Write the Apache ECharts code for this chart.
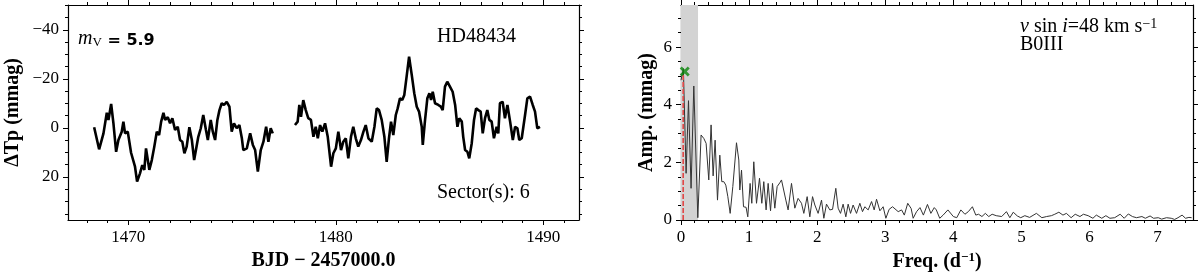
<!DOCTYPE html>
<html><head><meta charset="utf-8">
<script src="https://cdn.jsdelivr.net/npm/echarts@6/dist/echarts.min.js"></script>
<style>html,body{margin:0;padding:0;background:#fff}#c{width:1200px;height:280px}</style>
</head><body><div id="c"></div>
<script>
// ---------------- data ----------------
const lcTime1 = [1468.35,1468.59,1468.80,1468.96,1469.04,1469.17,1469.28,1469.41,1469.52,1469.68,
  1469.76,1469.84,1469.97,1470.13,1470.32,1470.42,1470.56,1470.67,1470.77,1470.85,
  1471.01,1471.13,1471.25,1471.37,1471.48,1471.58,1471.69,1471.77,1471.90,1472.01,
  1472.12,1472.25,1472.38,1472.49,1472.60,1472.70,
  1472.81,1472.94,1473.06,1473.17,1473.26,1473.37,1473.49,1473.61,1473.74,1473.83,
  1473.97,1474.07,1474.18,1474.29,1474.39,1474.50,1474.61,1474.74,1474.87,1474.98,
  1475.09,1475.22,1475.35,1475.47,1475.54,1475.71,1475.87,1476.00,1476.11,1476.24,
  1476.38,1476.51,1476.64,1476.75,1476.86,1476.96];
const lcFlux1 = [-0.3,8.7,2.2,-6.2,-3.3,-9.8,-1.9,9.7,4.9,1.5,
  -2.6,2.2,1.5,10.1,15.8,21.9,18.5,15.1,17.1,8.3,
  17.1,13.1,7.6,1.5,2.9,-2.6,-6.2,-3.3,-4.4,-1.9,
  -4.0,0.8,-0.5,4.9,5.6,10.3,
  7.6,-0.3,4.9,13.1,13.8,3.6,0.1,-5.3,0.8,4.9,
  -3.3,1.5,4.9,-3.3,-7.3,-10.1,-9.4,-10.7,-8.7,1.5,
  -1.9,0.1,-1.2,4.2,9.0,8.3,2.2,6.9,9.0,17.8,
  9.0,5.6,-0.5,5.6,0.1,2.2];
const lcTime2 = [1478.03,1478.16,1478.24,1478.32,1478.43,1478.55,1478.67,1478.80,1478.92,1479.03,
  1479.13,1479.24,1479.35,1479.48,1479.61,1479.77,1479.88,1480.00,1480.12,1480.25,
  1480.36,1480.48,1480.60,1480.73,1480.84,1480.96,1481.08,1481.21,1481.33,1481.44,
  1481.57,1481.73,1481.86,1481.97,1482.08,1482.21,1482.34,1482.45,1482.56,1482.66,
  1482.77,1482.89,1482.98,1483.09,1483.20,1483.30,1483.42,1483.53,1483.66,1483.78,
  1483.90,1484.01,1484.14,1484.19,
  1484.30,1484.41,1484.51,1484.59,1484.67,1484.78,
  1484.94,1485.06,1485.15,1485.26,1485.37,1485.50,1485.63,1485.75,1485.86,1485.95,
  1486.07,1486.14,1486.23,1486.34,1486.43,1486.55,1486.66,1486.76,1486.87,1486.98,
  1487.08,1487.19,1487.30,1487.40,1487.51,1487.62,1487.75,1487.83,1487.91,1488.04,
  1488.15,1488.27,1488.40,1488.53,1488.64,1488.75,1488.84,1488.96,1489.12,1489.23,
  1489.36,1489.49,1489.60,1489.71,1489.84];
const lcFlux2 = [-1.2,-2.6,-9.4,-4.6,-11.4,-7.3,-4.0,-3.3,3.6,-0.5,
  4.2,-1.2,1.5,-1.9,3.6,15.8,10.3,8.3,1.5,9.0,
  5.6,4.2,12.4,3.6,-0.5,4.2,7.6,4.9,1.5,-1.2,
  4.2,5.6,-0.5,-8.0,-7.3,-3.3,3.6,13.8,4.2,-2.6,
  2.9,-5.3,-8.0,-12.1,-11.4,-13.5,-21.6,-29.1,-21.6,-14.2,
  -8.7,-6.7,-0.5,6.9,
  -3.3,-12.1,-14.2,-11.4,-14.8,-10.1,
  -9.4,-8.7,-7.3,-16.9,-18.9,-16.9,-14.8,-9.4,-0.5,-4.0,
  -2.6,3.6,9.0,9.7,12.4,6.2,-3.3,-8.0,-7.3,-6.7,
  2.2,-4.0,-7.3,-3.3,-2.6,4.2,-0.5,2.2,-10.1,-10.7,
  -4.0,-9.4,-2.6,4.9,-0.5,0.1,4.9,4.2,-5.3,-12.1,
  -12.8,-9.4,-6.7,0.1,-0.5];

const spectrum = [[0.00,4.85],[0.035,5.25],[0.075,1.62],[0.11,4.14],[0.148,1.10],[0.188,4.65],[0.247,0.08],
  [0.295,2.95],[0.335,2.83],[0.369,2.66],[0.408,1.39],[0.442,3.30],[0.472,1.53],[0.501,2.77],[0.536,0.69],
  [0.570,2.25],[0.599,1.33],[0.629,1.33],[0.658,1.21],[0.688,0.81],[0.722,0.23],[0.761,1.16],[0.815,2.68],
  [0.849,2.08],[0.864,1.04],[0.889,1.73],[0.918,0.46],[0.956,0.44],[0.981,0.11],[1.015,1.27],[1.040,0.58],
  [1.069,2.02],[1.109,0.58],[1.153,1.45],[1.187,0.58],[1.216,1.33],[1.250,0.35],[1.280,1.27],[1.315,0.32],
  [1.344,1.27],[1.378,0.41],[1.412,1.16],[1.451,1.29],[1.476,1.39],[1.500,1.45],[1.540,0.69],[1.573,0.35],
  [1.623,1.27],[1.672,0.41],[1.720,0.75],[1.770,0.58],[1.804,0.23],[1.853,0.81],[1.892,0.11],[1.932,0.81],
  [1.966,0.52],[2.014,0.23],[2.064,0.69],[2.098,0.06],[2.137,0.55],[2.186,0.35],[2.226,0.37],[2.274,1.10],
  [2.308,0.41],[2.343,0.23],[2.381,0.55],[2.421,0.11],[2.455,0.55],[2.490,0.23],[2.528,0.52],[2.578,0.23],
  [2.627,0.58],[2.666,0.29],[2.700,0.46],[2.749,0.35],[2.799,0.64],[2.837,0.35],[2.872,0.72],[2.921,0.32],
  [2.969,0.46],[3.009,0.06],[3.057,0.37],[3.107,0.46],[3.19,0.29],[3.24,0.35],[3.28,0.17],[3.33,0.58],
  [3.38,0.40],[3.41,0.06],[3.46,0.29],[3.51,0.43],[3.56,0.17],[3.62,0.54],[3.67,0.23],[3.72,0.43],
  [3.75,0.35],[3.80,0.06],[3.85,0.17],[3.92,0.35],[4.00,0.12],[4.05,0.08],[4.11,0.35],[4.17,0.20],
  [4.22,0.29],[4.28,0.46],[4.33,0.17],[4.37,0.20],[4.42,0.12],[4.47,0.23],[4.52,0.12],[4.57,0.20],
  [4.63,0.15],[4.71,0.12],[4.78,0.29],[4.83,0.08],[4.88,0.27],[4.94,0.14],[4.99,0.08],[5.05,0.15],
  [5.12,0.09],[5.22,0.23],[5.30,0.08],[5.37,0.12],[5.44,0.15],[5.49,0.20],[5.55,0.27],[5.61,0.17],
  [5.66,0.23],[5.73,0.08],[5.79,0.20],[5.86,0.12],[5.91,0.20],[5.98,0.15],[6.05,0.06],[6.10,0.17],
  [6.18,0.06],[6.24,0.15],[6.30,0.06],[6.37,0.08],[6.45,0.20],[6.51,0.06],[6.57,0.21],[6.63,0.12],
  [6.69,0.08],[6.77,0.12],[6.82,0.06],[6.89,0.14],[6.94,0.06],[7.01,0.08],[7.06,0.03],[7.13,0.08],
  [7.20,0.06],[7.25,0.02],[7.30,0.08],[7.36,0.17],[7.41,0.06],[7.46,0.09],[7.50,0.08]];

const peakFreq = 0.032, peakLineTop = 5.1;
const markerFreq = 0.055, markerAmp = 5.15;
const bandRange = [0, 0.25];

// axis ranges and ticks
const lcXRange = [1467.09, 1491.72];
const lcYRange = [-50.2, 37.55];
const lcXMajor = [1470, 1480, 1490];
const lcXMinor = [1468,1469,1470,1471,1472,1473,1474,1475,1476,1477,1478,1479,1480,1481,1482,1483,1484,1485,1486,1487,1488,1489,1490,1491];
const lcYMajor = [-40, -20, 0, 20];
const lcYMinor = [-50,-45,-40,-35,-30,-25,-20,-15,-10,-5,0,5,10,15,20,25,30,35];
const spXRange = [0, 7.52];
const spYRange = [0, 7.46];
const spXMajor = [0,1,2,3,4,5,6,7];
const spXMinor = [0,0.2,0.4,0.6,0.8,1,1.2,1.4,1.6,1.8,2,2.2,2.4,2.6,2.8,3,3.2,3.4,3.6,3.8,4,4.2,4.4,4.6,4.8,5,5.2,5.4,5.6,5.8,6,6.2,6.4,6.6,6.8,7,7.2,7.4];
const spYMajor = [0,2,4,6];
const spYMinor = [0,0.5,1,1.5,2,2.5,3,3.5,4,4.5,5,5.5,6,6.5,7];

// ---------------- chart ----------------
const SERIF = '"Liberation Serif","Times New Roman",serif';
const chart = echarts.init(document.getElementById('c'), null, {renderer: 'canvas'});
const fmt = v => String(v).replace('-', '\u2212');
const zip = (a, b) => a.map((x, i) => [x, b[i]]);

function mkAxis(o) {
  return {
    type: 'value', gridIndex: o.grid, position: o.pos, min: o.range[0], max: o.range[1],
    inverse: !!o.inverse,
    name: o.name || '', nameLocation: 'middle', nameGap: o.nameGap || 0,
    nameTextStyle: {fontFamily: SERIF, fontSize: 20, fontWeight: 'bold', color: '#000', rich: o.rich},
    axisLine: {show: !!o.line, onZero: false, lineStyle: {color: '#000', width: 1.2}},
    axisTick: {show: true, inside: false, length: o.minor ? 3 : 5, customValues: o.ticks,
               lineStyle: {color: '#000', width: 1}},
    axisLabel: {show: !!o.labels, customValues: o.ticks, formatter: fmt, margin: 9,
                fontFamily: SERIF, fontSize: 17, color: '#000'},
    splitLine: {show: false}, minorTick: {show: false}
  };
}

function panel(gMain, gOver, xr, yr, xMaj, xMin, yMaj, yMin, inv, xName, xGap, yName, yGap, xRich) {
  const xs = [
    mkAxis({grid: gMain, pos: 'bottom', range: xr, ticks: xMaj, line: true, labels: true, name: xName, nameGap: xGap, rich: xRich}),
    mkAxis({grid: gMain, pos: 'top', range: xr, ticks: xMaj, line: true}),
    mkAxis({grid: gOver, pos: 'bottom', range: xr, ticks: xMin, minor: true}),
    mkAxis({grid: gOver, pos: 'top', range: xr, ticks: xMin, minor: true})
  ];
  const ys = [
    mkAxis({grid: gMain, pos: 'left', range: yr, ticks: yMaj, line: true, labels: true, inverse: inv, name: yName, nameGap: yGap}),
    mkAxis({grid: gMain, pos: 'right', range: yr, ticks: yMaj, line: true, inverse: inv}),
    mkAxis({grid: gOver, pos: 'left', range: yr, ticks: yMin, minor: true, inverse: inv}),
    mkAxis({grid: gOver, pos: 'right', range: yr, ticks: yMin, minor: true, inverse: inv})
  ];
  return {xs, ys};
}

const L = panel(0, 1, lcXRange, lcYRange, lcXMajor, lcXMinor, lcYMajor, lcYMinor, true,
  'BJD \u2212 2457000.0', 28, '\u0394Tp (mmag)', 45);
const R = panel(2, 3, spXRange, spYRange, spXMajor, spXMinor, spYMajor, spYMinor, false,
  '{a|Freq. (d}{s|\u22121}{a|)}', 26, 'Amp. (mmag)', 24,
  {a: {fontFamily: SERIF, fontSize: 20, fontWeight: 'bold', color: '#000', lineHeight: 22},
   s: {fontFamily: SERIF, fontSize: 13, fontWeight: 'bold', color: '#000', verticalAlign: 'top', lineHeight: 13}});

const leftRect = {left: 68, top: 5, width: 511, height: 215};
const rightRect = {left: 681, top: 5, width: 512, height: 215};

const option = {
  animation: false,
  backgroundColor: '#fff',
  grid: [
    Object.assign({}, leftRect), Object.assign({}, leftRect),
    Object.assign({}, rightRect), Object.assign({}, rightRect)
  ],
  xAxis: L.xs.concat(R.xs),
  yAxis: L.ys.concat(R.ys),
  series: [
    {type: 'line', xAxisIndex: 0, yAxisIndex: 0, data: zip(lcTime1, lcFlux1), showSymbol: false,
     lineStyle: {color: '#000', width: 2.6}, itemStyle: {color: '#000'}, z: 3, silent: true},
    {type: 'line', xAxisIndex: 0, yAxisIndex: 0, data: zip(lcTime2, lcFlux2), showSymbol: false,
     lineStyle: {color: '#000', width: 2.6}, itemStyle: {color: '#000'}, z: 3, silent: true},
    {type: 'line', xAxisIndex: 4, yAxisIndex: 4, data: [[bandRange[0], 0]], showSymbol: false, z: 1, silent: true,
     lineStyle: {width: 0},
     markArea: {silent: true, itemStyle: {color: '#d3d3d3'}, data: [[{xAxis: bandRange[0]}, {xAxis: bandRange[1]}]]}},
    {type: 'line', xAxisIndex: 4, yAxisIndex: 4, data: spectrum, showSymbol: false,
     lineStyle: {color: '#333', width: 1}, itemStyle: {color: '#333'}, z: 3, silent: true},
    {type: 'line', xAxisIndex: 4, yAxisIndex: 4, data: [[peakFreq, 0], [peakFreq, peakLineTop]], showSymbol: false,
     lineStyle: {color: '#e04848', width: 1.6, type: [5, 2]}, z: 4, silent: true},
    {type: 'scatter', xAxisIndex: 4, yAxisIndex: 4, data: [[markerFreq, markerAmp]],
     symbol: 'path://M2,0 L5,3 L8,0 L10,2 L7,5 L10,8 L8,10 L5,7 L2,10 L0,8 L3,5 L0,2 Z',
     symbolSize: 10, itemStyle: {color: '#0a870a'}, z: 5, silent: true}
  ],
  graphic: [
    {type: 'text', x: 78, y: 36, style: {
      text: '{m|m}{v|V}{e| = 5.9}', verticalAlign: 'middle', align: 'left',
      rich: {
        m: {fontFamily: SERIF, fontStyle: 'italic', fontSize: 20, color: '#000', lineHeight: 26, verticalAlign: 'bottom'},
        v: {fontFamily: SERIF, fontSize: 13, color: '#000', lineHeight: 12, verticalAlign: 'bottom'},
        e: {fontFamily: '"DejaVu Sans",sans-serif', fontWeight: 'bold', fontSize: 16, color: '#000', lineHeight: 24, verticalAlign: 'bottom'}
      }}},
    {type: 'text', x: 437, y: 37, style: {text: 'HD48434', font: '20px ' + SERIF, fill: '#000', verticalAlign: 'middle', align: 'left'}},
    {type: 'text', x: 437, y: 193, style: {text: 'Sector(s): 6', font: '20px ' + SERIF, fill: '#000', verticalAlign: 'middle', align: 'left'}},
    {type: 'text', x: 1020, y: 27, style: {
      text: '{i|v}{r| sin }{i|i}{r|=48 km s}{s|\u22121}', verticalAlign: 'middle', align: 'left',
      rich: {
        i: {fontFamily: SERIF, fontStyle: 'italic', fontSize: 20, color: '#000', lineHeight: 20},
        r: {fontFamily: SERIF, fontSize: 20, color: '#000', lineHeight: 20},
        s: {fontFamily: SERIF, fontSize: 14, color: '#000', lineHeight: 14, verticalAlign: 'top'}
      }}},
    {type: 'text', x: 1020, y: 45, style: {text: 'B0III', font: '20px ' + SERIF, fill: '#000', verticalAlign: 'middle', align: 'left'}}
  ]
};
chart.setOption(option);
</script>
</body></html>
